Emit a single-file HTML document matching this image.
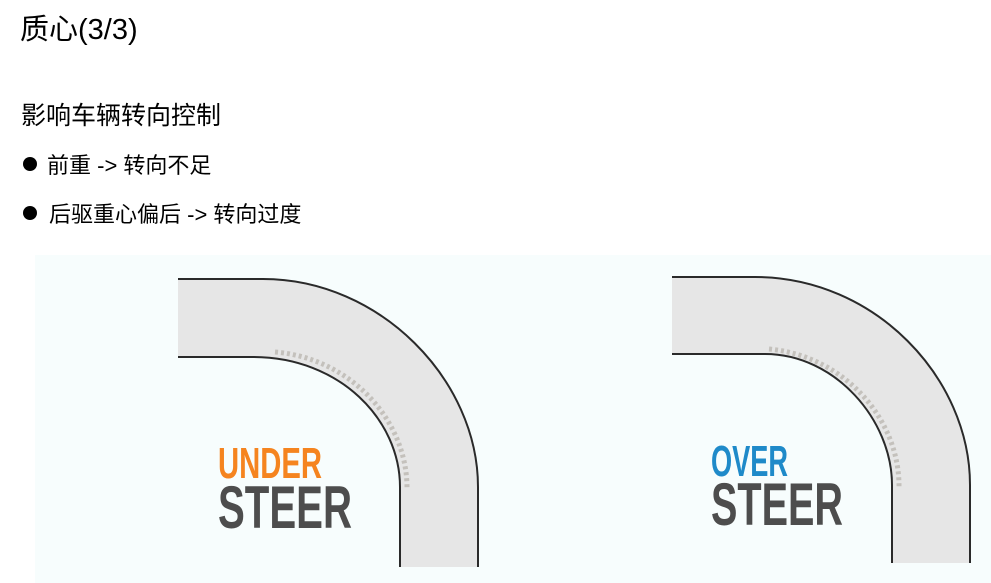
<!DOCTYPE html>
<html><head><meta charset="utf-8"><style>
html,body{margin:0;padding:0;background:#fff;}
body{width:991px;height:583px;position:relative;overflow:hidden;font-family:"Liberation Sans","Noto Sans CJK SC",sans-serif;color:#000;}
.t{position:absolute;white-space:nowrap;}
.b{position:absolute;width:14px;height:14px;border-radius:50%;background:#000;}
</style></head><body>
<div class="t" style="left:20px;top:6px;font-size:29px;">质心(3/3)</div>
<div class="t" style="left:21px;top:96px;font-size:25px;">影响车辆转向控制</div>
<div class="b" style="left:23px;top:157px;"></div>
<div class="t" style="left:47px;top:148px;font-size:22px;">前重 -&gt; 转向不足</div>
<div class="b" style="left:23px;top:206px;"></div>
<div class="t" style="left:49px;top:197px;font-size:22px;">后驱重心偏后 -&gt; 转向过度</div>
<svg width="991" height="583" style="position:absolute;left:0;top:0">
<rect x="35" y="255" width="956" height="328" fill="#f7fdfd"/>
<path d="M178,279 L263,279 C380,279 478,380 478,487 L478,567 L400,567 L400,487 C400,420 340,357 253,357 L178,357 Z" fill="#e6e6e6"/>
<path d="M178,279 L263,279 C380,279 478,380 478,487 L478,567" fill="none" stroke="#2a2a2a" stroke-width="2"/>
<path d="M178,357 L253,357 C340,357 400,420 400,487 L400,567" fill="none" stroke="#2a2a2a" stroke-width="2"/>
<path d="M275,352 C350,358 408,420 407,490" fill="none" stroke="#c4c1bc" stroke-width="5" stroke-dasharray="3,3"/>
<path d="M672,277 L755,277 C875,277 970,378 970,485 L970,563 L892,563 L892,485 C892,420 835,354 765,354 L672,354 Z" fill="#e6e6e6"/>
<path d="M672,277 L755,277 C875,277 970,378 970,485 L970,563" fill="none" stroke="#2a2a2a" stroke-width="2"/>
<path d="M672,354 L765,354 C835,354 892,420 892,485 L892,563" fill="none" stroke="#2a2a2a" stroke-width="2"/>
<path d="M769,349 C845,356 900,420 899,488" fill="none" stroke="#c4c1bc" stroke-width="5" stroke-dasharray="3,3"/>
<text x="218" y="478" font-family="Liberation Sans" font-weight="bold" font-size="44" fill="#f5841f" textLength="104" lengthAdjust="spacingAndGlyphs">UNDER</text>
<text x="218" y="528" font-family="Liberation Sans" font-weight="bold" font-size="60" fill="#4d4d4d" textLength="134" lengthAdjust="spacingAndGlyphs">STEER</text>
<text x="711" y="476" font-family="Liberation Sans" font-weight="bold" font-size="44" fill="#1f8ac9" textLength="77" lengthAdjust="spacingAndGlyphs">OVER</text>
<text x="711" y="525" font-family="Liberation Sans" font-weight="bold" font-size="60" fill="#4d4d4d" textLength="132" lengthAdjust="spacingAndGlyphs">STEER</text>
</svg>
</body></html>
